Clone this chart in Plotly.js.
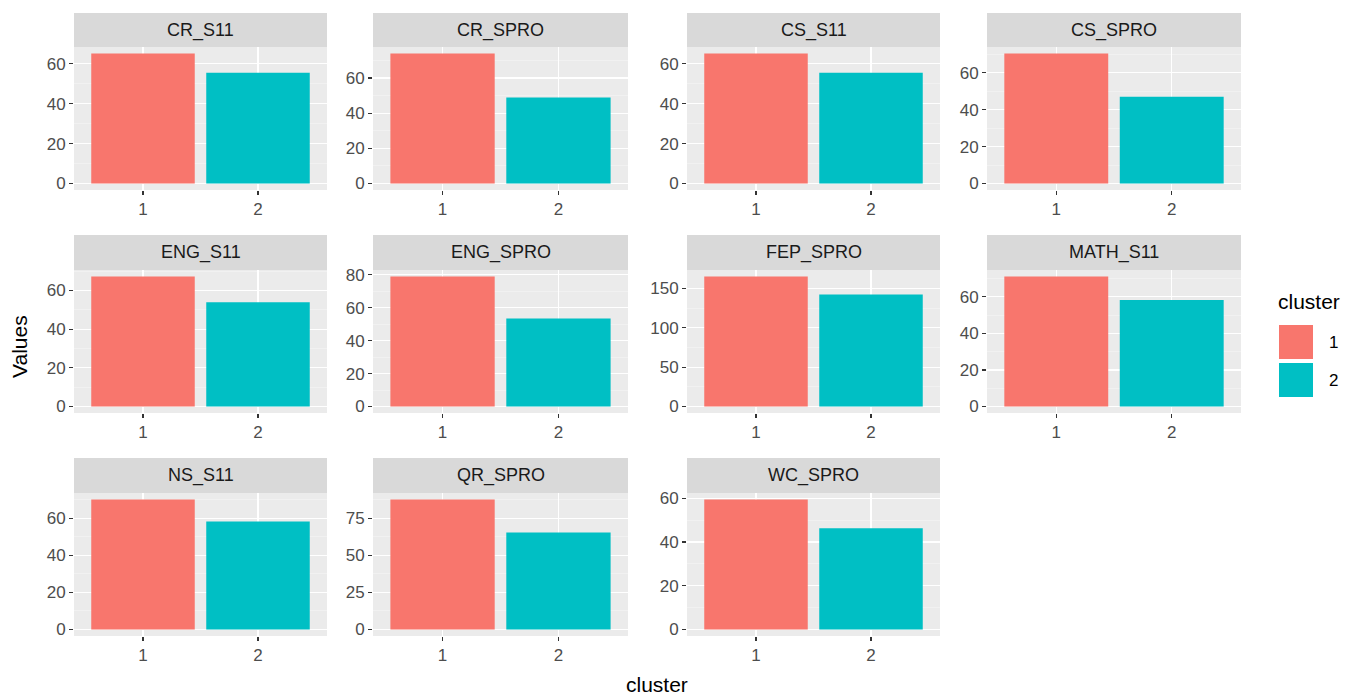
<!DOCTYPE html>
<html>
<head>
<meta charset="utf-8">
<script src="https://cdn.plot.ly/plotly-3.0.1.min.js"></script>
<style>
  html, body { margin: 0; padding: 0; background: #ffffff; }
  #chart { width: 1364px; height: 697px; }
</style>
</head>
<body>
<div id="chart"></div>
<script>
// ---- data ----
const panels = ['CR_S11', 'CR_SPRO', 'CS_S11', 'CS_SPRO', 'ENG_S11', 'ENG_SPRO',
                'FEP_SPRO', 'MATH_S11', 'NS_S11', 'QR_SPRO', 'WC_SPRO'];
const clusters = ['1', '2'];
const cluster1Values = [65.1, 74.0, 65.2, 70.5, 67.2, 78.9, 165.0, 71.1, 70.2, 87.7, 59.4];
const cluster2Values = [55.4, 49.0, 55.6, 47.0, 53.9, 53.4, 142.0, 58.2, 58.3, 65.4, 46.3];
const yTickSteps = [20, 20, 20, 20, 20, 20, 50, 20, 20, 25, 20];
const clusterColors = ['#F8766D', '#00BFC4'];

// ---- layout geometry (pixels) ----
const W = 1364, H = 697;
const colEdges = [[74, 327], [373, 628], [687, 940], [987, 1241]];
const rowEdges = [ // [stripTop, panelTop, panelBottom]
  [13, 47, 190],
  [235, 270, 413],
  [458, 493, 636]
];
const px = x => x / W;
const py = y => 1 - y / H;

const FONT = 'Liberation Sans, Arial, Helvetica, sans-serif';
const traces = [];
const layout = {
  width: W, height: H,
  margin: {l: 0, r: 0, t: 0, b: 0},
  paper_bgcolor: '#ffffff',
  plot_bgcolor: '#EBEBEB',
  showlegend: false,
  bargap: 0.1,
  font: {family: FONT, color: '#4D4D4D'},
  shapes: [],
  annotations: []
};

panels.forEach((name, i) => {
  const row = Math.floor(i / 4), col = i % 4;
  const [L, R] = colEdges[col];
  const [sTop, pTop, pBot] = rowEdges[row];
  const k = i + 1;
  const xa = 'x' + (k === 1 ? '' : k);
  const ya = 'y' + (k === 1 ? '' : k);
  const vals = [cluster1Values[i], cluster2Values[i]];
  const vmax = Math.max(...vals);
  const step = yTickSteps[i];

  traces.push({
    type: 'bar',
    x: clusters,
    y: vals,
    width: 0.9,
    marker: {color: clusterColors, line: {width: 0}},
    xaxis: xa, yaxis: ya,
    hoverinfo: 'x+y'
  });

  layout['xaxis' + (k === 1 ? '' : k)] = {
    domain: [px(L), px(R)],
    anchor: ya,
    type: 'category',
    range: [-0.6, 1.6],
    showgrid: true, gridcolor: '#ffffff', gridwidth: 1.2,
    zeroline: false, showline: false,
    ticks: 'outside', ticklen: 4, tickwidth: 1.2, tickcolor: '#333333',
    tickfont: {family: FONT, size: 17, color: '#4D4D4D'},
    fixedrange: true
  };
  layout['yaxis' + (k === 1 ? '' : k)] = {
    domain: [py(pBot), py(pTop)],
    anchor: xa,
    range: [-0.05 * vmax, 1.05 * vmax],
    tick0: 0, dtick: step,
    showgrid: true, gridcolor: '#ffffff', gridwidth: 1.2,
    minor: {tick0: 0, dtick: step / 2, showgrid: true, gridcolor: '#F5F5F5', gridwidth: 0.6},
    zeroline: false, showline: false,
    ticks: 'outside', ticklen: 4, tickwidth: 1.2, tickcolor: '#333333',
    tickfont: {family: FONT, size: 17, color: '#4D4D4D'},
    fixedrange: true
  };

  // strip
  layout.shapes.push({
    type: 'rect', xref: 'paper', yref: 'paper',
    x0: px(L), x1: px(R), y0: py(pTop), y1: py(sTop),
    fillcolor: '#D9D9D9', line: {width: 0}, layer: 'below'
  });
  layout.annotations.push({
    xref: 'paper', yref: 'paper',
    x: px((L + R) / 2), y: py((sTop + pTop) / 2),
    xanchor: 'center', yanchor: 'middle',
    text: name, showarrow: false,
    font: {family: FONT, size: 18, color: '#1A1A1A'}
  });
});

// axis titles
layout.annotations.push({
  xref: 'paper', yref: 'paper', x: px(20), y: py(347),
  xanchor: 'center', yanchor: 'middle', textangle: -90,
  text: 'Values', showarrow: false,
  font: {family: FONT, size: 21, color: '#000000'}
});
layout.annotations.push({
  xref: 'paper', yref: 'paper', x: px(657), y: py(684),
  xanchor: 'center', yanchor: 'middle',
  text: 'cluster', showarrow: false,
  font: {family: FONT, size: 21, color: '#000000'}
});

// legend (drawn manually, ggplot style)
layout.annotations.push({
  xref: 'paper', yref: 'paper', x: px(1276), y: py(301),
  xanchor: 'left', yanchor: 'middle',
  text: 'cluster', showarrow: false,
  font: {family: FONT, size: 21, color: '#000000'}
});
const keyTops = [325, 363];
clusters.forEach((c, j) => {
  layout.shapes.push({
    type: 'rect', xref: 'paper', yref: 'paper',
    x0: px(1279), x1: px(1313), y0: py(keyTops[j] + 34), y1: py(keyTops[j]),
    fillcolor: clusterColors[j], line: {width: 0}
  });
  layout.annotations.push({
    xref: 'paper', yref: 'paper', x: px(1327), y: py(keyTops[j] + 17),
    xanchor: 'left', yanchor: 'middle',
    text: c, showarrow: false,
    font: {family: FONT, size: 17, color: '#000000'}
  });
});

Plotly.newPlot('chart', traces, layout, {displayModeBar: false, staticPlot: true});
</script>
</body>
</html>
